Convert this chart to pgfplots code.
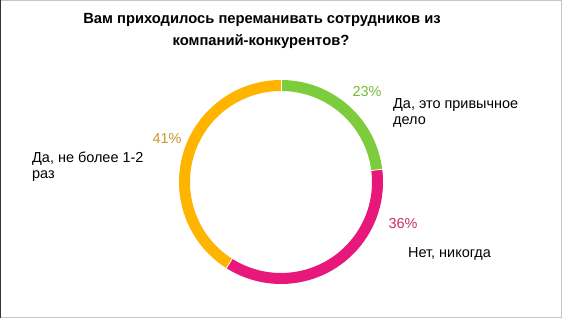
\documentclass[border=0pt]{standalone}
\usepackage{fontspec}
\setmainfont{Liberation Sans}
\usepackage{pgfplots}
\pgfplotsset{compat=1.18}
\definecolor{cgreen}{HTML}{7DCC3C}
\definecolor{cmag}{HTML}{E8177A}
\definecolor{corange}{HTML}{FFB400}
\definecolor{tgreen}{HTML}{76BB3A}
\definecolor{tmag}{HTML}{C8306E}
\definecolor{torange}{HTML}{C8962D}
% values (percent)
\def\vA{23}% Да, это привычное дело
\def\vB{36}% Нет, никогда
\def\vC{41}% Да, не более 1-2 раз
\pgfmathsetmacro{\aA}{90-3.6*\vA}
\pgfmathsetmacro{\aB}{\aA-3.6*\vB}
\pgfmathsetmacro{\aC}{\aB-3.6*\vC}
\def\cx{281}\def\cy{136}\def\rr{96.5}
\begin{document}
\begin{tikzpicture}
\begin{axis}[
  width=562bp, height=318bp, scale only axis,
  xmin=0, xmax=562, ymin=0, ymax=318,
  hide axis, clip=false,
]
% frame
\draw[line width=1bp, gray!45] (axis cs:0.5,0.5) rectangle (axis cs:561.5,317.5);
\draw[line width=1bp, black!80] (axis cs:0.5,0.5) -- (axis cs:0.5,317.5);
% ring
\draw[line width=11bp, cgreen] ([shift={(90:\rr bp)}]axis cs:\cx,\cy) arc[start angle=90, end angle=\aA, radius=\rr bp];
\draw[line width=11bp, cmag] ([shift={(\aA:\rr bp)}]axis cs:\cx,\cy) arc[start angle=\aA, end angle=\aB, radius=\rr bp];
\draw[line width=11bp, corange] ([shift={(\aB:\rr bp)}]axis cs:\cx,\cy) arc[start angle=\aB, end angle=\aC, radius=\rr bp];
\draw[white, line width=0.8bp] ([shift={(90:90.5bp)}]axis cs:\cx,\cy) -- ([shift={(90:102.5bp)}]axis cs:\cx,\cy);
\draw[white, line width=0.8bp] ([shift={(\aA:90.5bp)}]axis cs:\cx,\cy) -- ([shift={(\aA:102.5bp)}]axis cs:\cx,\cy);
\draw[white, line width=0.8bp] ([shift={(\aB:90.5bp)}]axis cs:\cx,\cy) -- ([shift={(\aB:102.5bp)}]axis cs:\cx,\cy);
% title
\node[anchor=base, font=\fontsize{14.8}{16}\selectfont\bfseries] at (axis cs:262,294) {Вам приходилось переманивать сотрудников из};
\node[anchor=base, font=\fontsize{14.8}{16}\selectfont\bfseries] at (axis cs:261,272) {компаний-конкурентов?};
% labels
\node[anchor=base, text=tgreen, font=\fontsize{14.5}{16}\selectfont] at (axis cs:367,221) {\vA\%};
\node[anchor=base west, inner sep=0pt, font=\fontsize{14.5}{16}\selectfont] at (axis cs:393,209) {Да, это привычное};
\node[anchor=base west, inner sep=0pt, font=\fontsize{14.5}{16}\selectfont] at (axis cs:393,193) {дело};
\node[anchor=base, text=tmag, font=\fontsize{14.5}{16}\selectfont] at (axis cs:403,89) {\vB\%};
\node[anchor=base west, inner sep=0pt, font=\fontsize{14.5}{16}\selectfont] at (axis cs:408,60) {Нет, никогда};
\node[anchor=base, text=torange, font=\fontsize{14.5}{16}\selectfont] at (axis cs:167,174) {\vC\%};
\node[anchor=base west, inner sep=0pt, font=\fontsize{14.5}{16}\selectfont] at (axis cs:32,155) {Да, не более 1-2};
\node[anchor=base west, inner sep=0pt, font=\fontsize{14.5}{16}\selectfont] at (axis cs:32,139) {раз};
\end{axis}
\end{tikzpicture}
\end{document}
